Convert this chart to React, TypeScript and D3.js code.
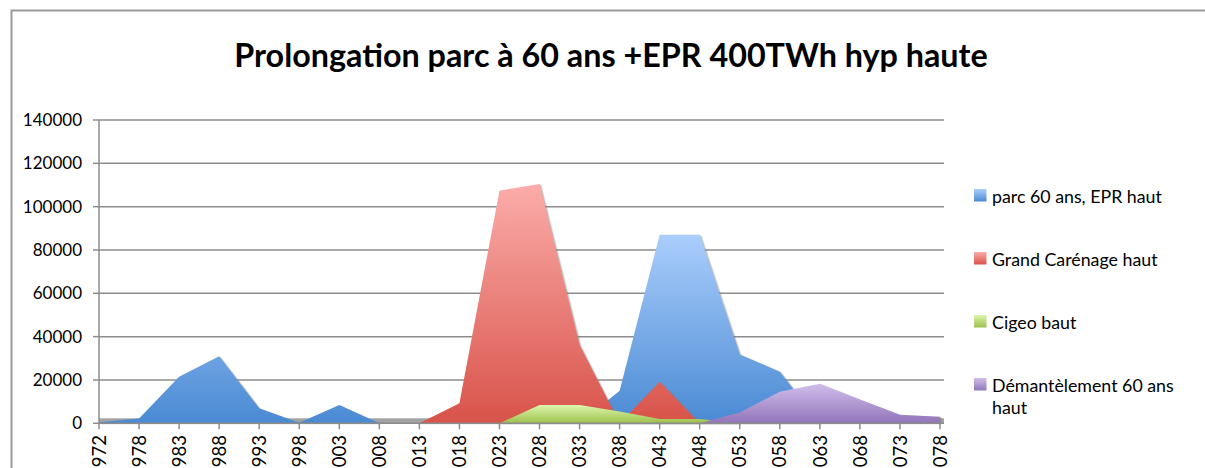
import React from "react";
import * as d3 from "d3";

const years = ["1972","1978","1983","1988","1993","1998","2003","2008","2013","2018","2023","2028","2033","2038","2043","2048","2053","2058","2063","2068","2073","2078"];
const parcHaut = [500,2200,21500,31000,6900,300,8500,0,0,0,0,0,0,15000,87000,87000,31800,23800,0,0,0,0];
const grandCarenage = [0,0,0,0,0,0,0,0,0,9200,107400,110500,36100,0,19200,0,0,0,0,0,0,0];
const cigeo = [0,0,0,0,0,0,0,0,0,0,0,8500,8500,5400,2000,2000,0,0,0,0,0,0];
const demantelement = [0,0,0,0,0,0,0,0,0,0,0,0,0,0,0,0,5000,14600,18300,11000,4000,3000];
const yTicks = [0,20000,40000,60000,80000,100000,120000,140000];
const seriesNames = ["parc 60 ans, EPR haut","Grand Carénage haut","Cigeo baut","Démantèlement 60 ans|haut"];
const seriesColors = [["#AACEFC","#4A8AD3"],["#FBACA9","#D8534A"],["#DEF7AB","#9CC04E"],["#D1BEEC","#9175B9"]];

const W = 1205, H = 468;
const FONT = "Lato, 'Open Sans', sans-serif";

export default function App() {
  const x = d3.scalePoint<string>().domain(years).range([99, 940]);
  const y = d3.scaleLinear().domain([0, 140000]).range([423.3, 120]);
  const allSeries = [parcHaut, grandCarenage, cigeo, demantelement];
  const area = d3.area<number>()
    .x((_, i) => x(years[i]) as number)
    .y0(y(0))
    .y1((d) => y(d))
    .curve(d3.curveLinear);

  const legendBaselines = [203, 266, 329, 392];

  return (
    <svg width={W} height={H} style={{ position: "absolute", left: 0, top: 0, background: "#fff" }} fontFamily={FONT}>
      <defs>
        {seriesColors.map((c, i) => (
          <linearGradient key={i} id={`g${i}`} x1="0" y1="0" x2="0" y2="1">
            <stop offset="0" stopColor={c[0]} />
            <stop offset="1" stopColor={c[1]} />
          </linearGradient>
        ))}
        <filter id="sh" x="-5%" y="-5%" width="110%" height="110%">
          <feDropShadow dx="1.5" dy="0.8" stdDeviation="0.6" floodColor="#777" floodOpacity="0.55" />
        </filter>
      </defs>
      <rect x={0} y={0} width={W} height={H} fill="#fff" />
      <rect x={11.5} y={10.5} width={W + 10} height={H + 10} fill="none" stroke="#9a9a9a" strokeWidth={2} />
      <text x={611} y={67} textAnchor="middle" fontSize={32.3} fontWeight="bold" fill="#000">
        Prolongation parc à 60 ans +EPR 400TWh hyp haute
      </text>
      {yTicks.map((t) => (
        <g key={t}>
          {t > 0 && <line x1={99} x2={944} y1={y(t)} y2={y(t)} stroke="#8c8c8c" strokeWidth={1.5} />}
          <line x1={93} x2={99} y1={y(t)} y2={y(t)} stroke="#8c8c8c" strokeWidth={1.5} />
          <text x={82} y={y(t)} dy="0.36em" textAnchor="end" fontSize={17} fill="#000">{t}</text>
        </g>
      ))}
      <rect x={99} y={y(0) - 5} width={845} height={5} fill="#a3a3a3" />
      {allSeries.map((s, i) => (
        <path key={i} d={area(s) as string} fill={`url(#g${i})`} filter="url(#sh)" />
      ))}
      <line x1={99} x2={99} y1={120} y2={y(0)} stroke="#8c8c8c" strokeWidth={1.5} />
      <line x1={99} x2={944} y1={y(0)} y2={y(0)} stroke="#8c8c8c" strokeWidth={1.5} />
      {years.map((yr) => (
        <g key={yr}>
          <line x1={x(yr)} x2={x(yr)} y1={y(0)} y2={y(0) + 6} stroke="#8c8c8c" strokeWidth={1.5} />
          <text transform={`translate(${x(yr)},435) rotate(-90)`} textAnchor="end" dy="0.36em" fontSize={18.5} fill="#000">{yr}</text>
        </g>
      ))}
      {seriesNames.map((n, i) => {
        const lines = n.split("|");
        const b = legendBaselines[i];
        return (
          <g key={n}>
            <rect x={974} y={b - 14} width={12.5} height={12.5} fill={`url(#g${i})`} />
            {lines.map((l, j) => (
              <text key={j} x={992} y={b + j * 21.5} fontSize={17.8} fill="#000">{l}</text>
            ))}
          </g>
        );
      })}
    </svg>
  );
}
